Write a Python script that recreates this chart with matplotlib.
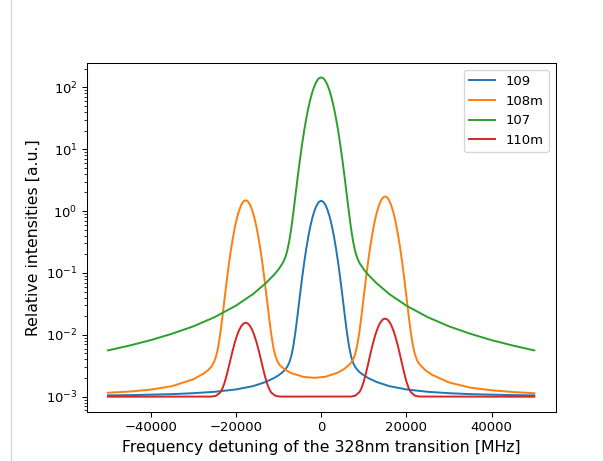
import matplotlib
matplotlib.use("Agg")
import matplotlib.pyplot as plt
from matplotlib.lines import Line2D

# ---- data ----
x_sym = [-50000, -45000, -40000, -35000, -30000, -25000, -20000, -16000, -13000,
         -11000, -10000, -9000, -8500, -8000, -7500, -7000, -6500, -6000, -5500, -5000,
         -4500, -4000, -3500, -3000, -2500, -2000, -1500, -1000, -500, 0,
         500, 1000, 1500, 2000, 2500, 3000, 3500, 4000, 4500, 5000, 5500, 6000,
         6500, 7000, 7500, 8000, 8500, 9000, 10000, 11000, 13000, 16000, 20000, 25000,
         30000, 35000, 40000, 45000, 50000]

y_107 = [0.0056, 0.0067, 0.0082, 0.0104, 0.0137, 0.0193, 0.0296, 0.0455, 0.0682,
         0.0943, 0.114, 0.145, 0.172, 0.221, 0.321, 0.531, 0.971, 1.86, 3.55, 6.57,
         11.65, 19.6, 31.1, 46.5, 65.4, 86.7, 108.2, 127.1, 140.3, 145.1,
         140.3, 127.1, 108.2, 86.7, 65.4, 46.5, 31.1, 19.6, 11.65, 6.57, 3.55, 1.86,
         0.971, 0.531, 0.321, 0.221, 0.172, 0.145, 0.114, 0.0943, 0.0682, 0.0455, 0.0296, 0.0193,
         0.0137, 0.0104, 0.0082, 0.0067, 0.0056]

y_109 = [0.00105, 0.00106, 0.00108, 0.0011, 0.00114, 0.0012, 0.00131, 0.00148, 0.00173,
         0.00201, 0.00222, 0.0025, 0.00272, 0.00301, 0.00352, 0.00454, 0.00675, 0.0116, 0.0218, 0.0421,
         0.0798, 0.144, 0.245, 0.391, 0.582, 0.807, 1.044, 1.258, 1.410, 1.467,
         1.410, 1.258, 1.044, 0.807, 0.582, 0.391, 0.245, 0.144, 0.0798, 0.0421, 0.0218, 0.0116,
         0.00675, 0.00454, 0.00352, 0.00301, 0.00272, 0.0025, 0.00222, 0.00201, 0.00173, 0.00148, 0.00131, 0.0012,
         0.00114, 0.0011, 0.00108, 0.00106, 0.00105]

x_108m = [-50000, -45000, -40000, -35000, -30000, -27500, -26500, -25700, -25200, -24700,
          -24200, -23700, -23200, -22700, -22200, -21700, -21200, -20700, -20200, -19700,
          -19200, -18700, -18200, -17700, -17200, -16700, -16200, -15700, -15200, -14700,
          -14200, -13700, -13200, -12700, -12200, -11700, -11200, -10700, -10200, -9700,
          -8500, -7000, -4000, -1500, 1000, 4000, 5500, 7000, 7500, 8000,
          8500, 9000, 9500, 10000, 10500, 11000, 11500, 12000, 12500, 13000,
          13500, 14000, 14500, 15000, 15500, 16000, 16500, 17000, 17500, 18000,
          18500, 19000, 19500, 20000, 20500, 21000, 21500, 22000, 22500, 23000,
          24500, 26000, 30000, 35000, 40000, 45000, 50000]
y_108m = [0.00116, 0.00121, 0.0013, 0.00148, 0.00191, 0.00238, 0.00269, 0.00309, 0.00353, 0.00434,
          0.0061, 0.0100, 0.0186, 0.0362, 0.0701, 0.130, 0.227, 0.372, 0.565, 0.798,
          1.047, 1.275, 1.438, 1.498, 1.438, 1.275, 1.047, 0.798, 0.565, 0.372,
          0.2275, 0.1302, 0.0701, 0.0363, 0.0187, 0.0101, 0.00621, 0.00447, 0.00367, 0.00323,
          0.00274, 0.0024, 0.00208, 0.00202, 0.0021, 0.00246, 0.00283, 0.00352, 0.00399, 0.00493,
          0.00694, 0.01145, 0.0213, 0.0416, 0.0807, 0.150, 0.262, 0.428, 0.651, 0.920,
          1.207, 1.469, 1.657, 1.726, 1.657, 1.469, 1.207, 0.920, 0.651, 0.428,
          0.262, 0.150, 0.0806, 0.0415, 0.0212, 0.0114, 0.00684, 0.00483, 0.00387, 0.00339,
          0.00266, 0.00226, 0.0017, 0.0014, 0.00127, 0.00119, 0.00114]

x_110m = [-50000, -25700, -24700, -23700, -23200, -22700, -22200, -21700, -21200, -20700,
          -20200, -19700, -19200, -18700, -18200, -17700, -17200, -16700, -16200, -15700,
          -15200, -14700, -14200, -13700, -13200, -12700, -12200, -11700, -10700, -9700,
          7000, 8000, 9000, 9500, 10000, 10500, 11000, 11500, 12000, 12500,
          13000, 13500, 14000, 14500, 15000, 15500, 16000, 16500, 17000, 17500,
          18000, 18500, 19000, 19500, 20000, 20500, 21000, 22000, 23000, 50000]
y_110m = [0.001, 0.001005, 0.001032, 0.001163, 0.001335, 0.00165, 0.00217, 0.00299, 0.00418, 0.00577,
          0.00773, 0.00992, 0.0121, 0.01397, 0.01525, 0.0157, 0.01525, 0.01397, 0.0121, 0.00992,
          0.00773, 0.00577, 0.00418, 0.00299, 0.00217, 0.00165, 0.001335, 0.001163, 0.001032, 0.001005,
          0.001006, 0.001038, 0.001192, 0.001394, 0.00176, 0.00238, 0.00334, 0.00474, 0.00662, 0.00892,
          0.01149, 0.01406, 0.01627, 0.01777, 0.0183, 0.01777, 0.01627, 0.01406, 0.01149, 0.00892,
          0.00662, 0.00474, 0.00334, 0.00238, 0.00176, 0.001394, 0.001192, 0.001038, 0.001006, 0.001]

labels = ["109", "108m", "107", "110m"]
xlabel = "Frequency detuning of the 328nm transition [MHz]"
ylabel = "Relative intensities [a.u.]"

# ---- figure ----
W, H = 603, 461
dpi = 94.21875
fig = plt.figure(figsize=(W / dpi, H / dpi), dpi=dpi)
ax = fig.add_axes([86.7 / W, (H - 412.3) / H, 468.9 / W, 349.0 / H])

ax.plot(x_sym, y_109, color="C0", label=labels[0])
ax.plot(x_108m, y_108m, color="C1", label=labels[1])
ax.plot(x_sym, y_107, color="C2", label=labels[2])
ax.plot(x_110m, y_110m, color="C3", label=labels[3])

ax.set_yscale("log")
ax.set_xlim(-55000, 55000)
ax.set_ylim(10 ** -3.252, 10 ** 2.388)
ax.set_xlabel(xlabel, fontsize=12)
ax.set_ylabel(ylabel, fontsize=12)
ax.legend(loc="upper right")

fig.add_artist(Line2D([11 / W, 11 / W], [0, 1], color="#d4d4d4", lw=1,
                      transform=fig.transFigure))

fig.savefig("out.png", dpi=dpi)
